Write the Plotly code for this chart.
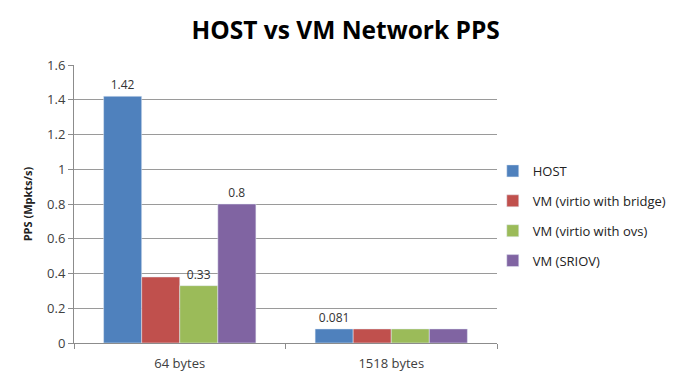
import plotly.graph_objects as go

categories = ["64 bytes", "1518 bytes"]
series_names = ["HOST", "VM (virtio with bridge)", "VM (virtio with ovs)", "VM (SRIOV)"]
host = [1.42, 0.081]
vm_bridge = [0.38, 0.081]
vm_ovs = [0.33, 0.081]
vm_sriov = [0.8, 0.081]
labels_host = ["1.42", "0.081"]
labels_bridge = ["", ""]
labels_ovs = ["0.33", ""]
labels_sriov = ["0.8", ""]
colors = ["#4F81BD", "#C0504D", "#9BBB59", "#8064A2"]
y_ticks = [0, 0.2, 0.4, 0.6, 0.8, 1, 1.2, 1.4, 1.6]
y_tick_text = ["0", "0.2", "0.4", "0.6", "0.8", "1", "1.2", "1.4", "1.6"]

font_family = "Open Sans, Liberation Sans, sans-serif"

fig = go.Figure()
for i, (name, vals, labs, col) in enumerate(zip(series_names,
                                 [host, vm_bridge, vm_ovs, vm_sriov],
                                 [labels_host, labels_bridge, labels_ovs, labels_sriov],
                                 colors)):
    fig.add_trace(go.Bar(
        x=categories, y=vals, name=name, marker_color=col,
        legendgroup="g%d" % i,
        text=labs, textposition="outside", cliponaxis=False,
        textfont=dict(size=12, color="#333333", family=font_family),
    ))

fig.update_layout(
    width=692, height=375,
    margin=dict(l=66, r=203, t=57, b=40, autoexpand=False),
    paper_bgcolor="white", plot_bgcolor="white",
    barmode="group", bargap=0.28, bargroupgap=0,
    title=dict(text="<b>HOST vs VM Network PPS</b>", x=0.488, xanchor="center",
               y=0.941, yanchor="middle",
               font=dict(size=24.5, color="black", family=font_family)),
    font=dict(family=font_family, size=12, color="#404040"),
    legend=dict(x=0.99, xanchor="left", y=0.457, yanchor="middle",
                traceorder="grouped", tracegroupgap=10,
                font=dict(size=13, color="#222222"),
                itemwidth=30, bgcolor="rgba(0,0,0,0)"),
)
fig.update_yaxes(range=[0, 1.6], tickvals=y_ticks, ticktext=y_tick_text,
                 automargin=False,
                 showgrid=True, gridcolor="#9a9a9a", gridwidth=1,
                 showline=True, linecolor="#8c8c8c", ticks="outside",
                 ticklen=5, tickcolor="#8c8c8c", zeroline=False,
                 tickfont=dict(size=13, color="#404040"),
                 title=dict(text="<b>PPS (Mpkts/s)</b>", standoff=12,
                            font=dict(size=11, color="#222222")))
fig.update_xaxes(automargin=False,
                 showline=True, linecolor="#8c8c8c", ticks="outside",
                 tickson="boundaries", ticklen=5, tickcolor="#8c8c8c",
                 ticklabelstandoff=8,
                 tickfont=dict(size=13, color="#404040"))

fig.write_html("out.html")
